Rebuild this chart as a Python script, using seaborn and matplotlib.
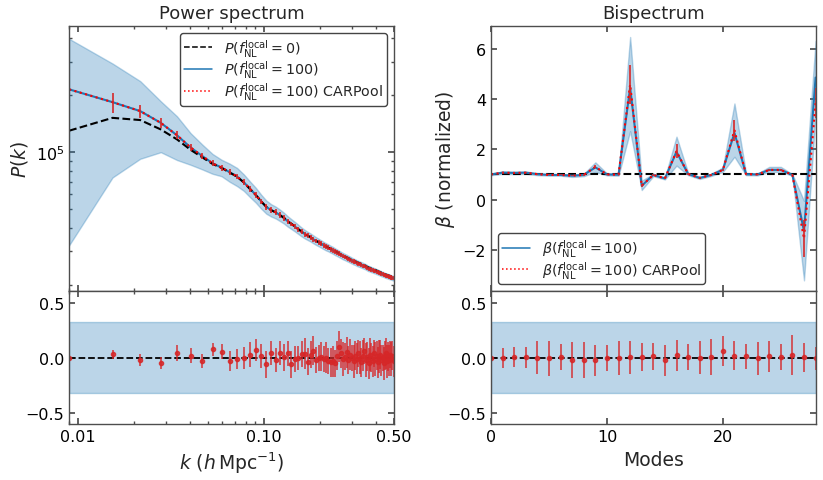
import matplotlib
matplotlib.use("Agg")
import numpy as np
import pandas as pd
import matplotlib.pyplot as plt
import seaborn as sns
from matplotlib.ticker import FormatStrFormatter, NullFormatter

# ---- power spectrum: k bins (h/Mpc) ----
k = [0.0090, 0.0154, 0.0217, 0.0280, 0.0342, 0.0405, 0.0468, 0.0531, 0.0594, 0.0656,
     0.0719, 0.0782, 0.0845, 0.0908, 0.0970, 0.1033, 0.1096, 0.1159, 0.1222, 0.1284,
     0.1347, 0.1410, 0.1473, 0.1536, 0.1598, 0.1661, 0.1724, 0.1787, 0.1850, 0.1912,
     0.1975, 0.2038, 0.2101, 0.2164, 0.2226, 0.2289, 0.2352, 0.2415, 0.2478, 0.2540,
     0.2603, 0.2666, 0.2729, 0.2792, 0.2854, 0.2917, 0.2980, 0.3043, 0.3106, 0.3168,
     0.3231, 0.3294, 0.3357, 0.3420, 0.3482, 0.3545, 0.3608, 0.3671, 0.3734, 0.3796,
     0.3859, 0.3922, 0.3985, 0.4048, 0.4110, 0.4173, 0.4236, 0.4299, 0.4362, 0.4424,
     0.4487, 0.4550, 0.4613, 0.4676, 0.4738, 0.4801, 0.4864, 0.4927, 0.4990]

# P(k) for fNL=100, in units of 1e4
pk_fnl100 = [21.5, 18.4, 16.5, 14.3, 12.3, 10.6, 9.55, 8.75, 8.30, 7.85,
             7.45, 6.95, 6.40, 5.95, 5.50, 5.15, 4.95, 4.82, 4.66, 4.50,
             4.32, 4.18, 4.05, 3.92, 3.80, 3.70, 3.62, 3.55, 3.47, 3.40,
             3.34, 3.28, 3.22, 3.17, 3.13, 3.08, 3.04, 2.99, 2.95, 2.91,
             2.87, 2.83, 2.80, 2.77, 2.74, 2.71, 2.68, 2.65, 2.63, 2.60,
             2.58, 2.56, 2.54, 2.52, 2.50, 2.48, 2.45, 2.43, 2.42, 2.40,
             2.39, 2.37, 2.36, 2.34, 2.33, 2.31, 2.30, 2.28, 2.27, 2.26,
             2.24, 2.23, 2.22, 2.21, 2.20, 2.19, 2.18, 2.17, 2.16]

# P(k) for fNL=0, in units of 1e4
pk_fnl0 = [13.0, 15.2, 14.8, 13.2, 11.7, 10.3, 9.40, 8.68, 8.27, 7.82,
           7.43, 6.93, 6.39, 5.94, 5.50, 5.15, 4.95, 4.82, 4.66, 4.51,
           4.33, 4.19, 4.06, 3.93, 3.81, 3.71, 3.63, 3.56, 3.48, 3.41,
           3.35, 3.29, 3.23, 3.18, 3.14, 3.09, 3.05, 3.01, 2.97, 2.93,
           2.89, 2.85, 2.82, 2.79, 2.76, 2.73, 2.70, 2.68, 2.66, 2.63,
           2.61, 2.59, 2.57, 2.55, 2.53, 2.51, 2.48, 2.46, 2.45, 2.43,
           2.42, 2.40, 2.39, 2.37, 2.36, 2.34, 2.33, 2.31, 2.30, 2.29,
           2.27, 2.26, 2.25, 2.24, 2.23, 2.22, 2.21, 2.20, 2.19]

# relative scatter of the simulations (percent)
pk_std_pct = [85, 60, 44, 30, 26, 19, 15, 12, 10, 11,
              11, 10, 9.5, 9, 8.5, 8, 7.5, 7.2, 7, 6.6,
              6.3, 6, 5.8, 5.6, 5.4, 5.2, 5, 4.9, 4.8, 4.7,
              4.6, 4.5, 4.4, 4.4, 4.3, 4.2, 4.2, 4.1, 4.0, 4.0,
              3.9, 3.9, 3.8, 3.8, 3.7, 3.7, 3.6, 3.6, 3.5, 3.5,
              3.5, 3.4, 3.4, 3.4, 3.3, 3.3, 3.3, 3.2, 3.2, 3.2,
              3.2, 3.1, 3.1, 3.1, 3.1, 3.0, 3.0, 3.0, 3.0, 3.0,
              2.9, 2.9, 2.9, 2.9, 2.9, 2.8, 2.8, 2.8, 2.8]

# CARPool error bars (percent)
pk_car_err_pct = [30, 12, 7.5, 6, 5, 4.5, 4, 3.5, 3.5, 3.5,
                  3.5, 3.5, 3.5, 3.5, 3.5, 3.5, 3.5, 3.5, 3.5, 3.5,
                  3, 3, 3, 3, 3, 3, 3, 3, 3, 3,
                  3, 3, 3, 3, 3, 3, 3, 3, 3, 3,
                  2.5, 2.5, 2.5, 2.5, 2.5, 2.5, 2.5, 2.5, 2.5, 2.5,
                  2.5, 2.5, 2.5, 2.5, 2.5, 2.5, 2.5, 2.5, 2.5, 2.5,
                  2.5, 2.5, 2.5, 2.5, 2.5, 2.5, 2.5, 2.5, 2.5, 2.5,
                  2.5, 2.5, 2.5, 2.5, 2.5, 2.5, 2.5, 2.5, 2.5]

# residuals (lower left panel)
pk_resid = [0.00, 0.033, -0.018, -0.048, 0.045, 0.02, -0.03, 0.076, 0.055, -0.027,
            -0.01, 0.00, 0.03, 0.073, 0.015, -0.058, 0.045, -0.02, 0.045, 0.005,
            0.04, -0.058, -0.01, 0.00, 0.035, 0.035, -0.035, 0.03, 0.065, -0.02,
            0.00, 0.01, -0.01, 0.00, -0.03, -0.04, -0.03, -0.05, 0.02, 0.10,
            0.04, -0.01, 0.01, 0.05, -0.02, 0.03, 0.00, -0.03, 0.02, -0.01,
            0.04, 0.00, -0.04, 0.02, 0.06, -0.02, 0.01, -0.05, 0.03, 0.00,
            -0.03, 0.04, -0.01, 0.02, -0.04, 0.01, 0.03, -0.02, 0.00, -0.05,
            0.02, 0.04, -0.03, 0.01, -0.02, 0.03, -0.01, 0.02, -0.03]
pk_resid_err = [0.06, 0.04, 0.055, 0.055, 0.07, 0.07, 0.065, 0.06, 0.07, 0.09,
                0.09, 0.10, 0.11, 0.10, 0.11, 0.12, 0.11, 0.11, 0.11, 0.12,
                0.11, 0.12, 0.12, 0.11, 0.12, 0.14, 0.12, 0.12, 0.13, 0.12,
                0.12, 0.13, 0.12, 0.14, 0.12, 0.13, 0.14, 0.12, 0.13, 0.14,
                0.13, 0.15, 0.12, 0.14, 0.13, 0.14, 0.12, 0.15, 0.13, 0.14,
                0.12, 0.15, 0.13, 0.14, 0.12, 0.15, 0.13, 0.14, 0.15, 0.13,
                0.14, 0.12, 0.15, 0.13, 0.14, 0.15, 0.13, 0.14, 0.12, 0.15,
                0.13, 0.14, 0.15, 0.13, 0.14, 0.12, 0.15, 0.13, 0.14]
resid_band = 0.32

# ---- bispectrum ----
modes = [0, 1, 2, 3, 4, 5, 6, 7, 8, 9, 10, 11, 12, 13, 14,
         15, 16, 17, 18, 19, 20, 21, 22, 23, 24, 25, 26, 27, 28]
beta_fnl100 = [1.00, 1.07, 1.06, 1.07, 1.01, 0.98, 0.98, 0.95, 0.98, 1.28,
               1.00, 0.99, 4.45, 0.55, 0.98, 0.84, 1.90, 1.02, 0.86, 0.98,
               1.18, 2.65, 1.01, 1.00, 1.18, 1.18, 0.98, -1.25, 4.85]
beta_car = [1.00, 1.07, 1.06, 1.07, 1.01, 0.98, 0.98, 0.95, 0.98, 1.30,
            1.00, 0.99, 4.57, 0.55, 0.98, 0.84, 1.92, 1.02, 0.86, 0.98,
            1.18, 2.75, 1.01, 1.00, 1.18, 1.18, 0.98, -1.55, 3.85]
beta_car_err = [0.02, 0.02, 0.02, 0.02, 0.02, 0.02, 0.02, 0.03, 0.03, 0.06,
                0.02, 0.02, 0.78, 0.05, 0.03, 0.03, 0.27, 0.03, 0.03, 0.03,
                0.04, 0.43, 0.02, 0.02, 0.04, 0.04, 0.02, 0.74, 0.60]
beta_lo = [0.97, 1.02, 1.01, 1.02, 0.97, 0.95, 0.95, 0.90, 0.93, 1.10,
           0.96, 0.95, 2.72, 0.38, 0.93, 0.80, 1.35, 0.97, 0.82, 0.94,
           1.10, 1.70, 0.97, 0.96, 1.10, 1.10, 0.95, -3.21, 3.40]
beta_hi = [1.03, 1.12, 1.11, 1.12, 1.05, 1.01, 1.01, 1.00, 1.03, 1.48,
           1.04, 1.03, 6.46, 0.75, 1.03, 0.88, 2.50, 1.07, 0.90, 1.02,
           1.28, 3.82, 1.05, 1.04, 1.30, 1.30, 1.01, -0.05, 6.30]
beta_resid = [0.00, 0.00, 0.006, 0.003, 0.00, -0.006, 0.006, -0.02, -0.02, -0.02,
              -0.003, -0.003, 0.003, 0.006, 0.012, -0.02, 0.024, 0.006, 0.00, 0.006,
              0.058, 0.02, 0.012, -0.006, 0.015, 0.006, 0.024, 0.006, -0.006]
beta_resid_err = [0.05, 0.09, 0.09, 0.095, 0.15, 0.16, 0.12, 0.16, 0.16, 0.14,
                  0.12, 0.155, 0.15, 0.125, 0.12, 0.14, 0.14, 0.12, 0.15, 0.16,
                  0.135, 0.13, 0.11, 0.15, 0.14, 0.12, 0.18, 0.13, 0.10]

sns.set_theme(style="ticks")
plt.rcParams.update({
    "font.family": ["DejaVu Sans"],
    "mathtext.fontset": "dejavusans",
    "xtick.direction": "in", "ytick.direction": "in",
    "xtick.top": True, "ytick.right": True,
    "xtick.major.size": 4.5, "ytick.major.size": 4.5,
    "xtick.minor.size": 2.5, "ytick.minor.size": 2.5,
    "xtick.color": "#4d4d4d", "ytick.color": "#4d4d4d",
    "xtick.labelcolor": "black", "ytick.labelcolor": "black",
    "xtick.labelsize": 11.5, "ytick.labelsize": 11.5,
    "axes.edgecolor": "#4d4d4d", "axes.linewidth": 1.0,
    "axes.labelsize": 13.5, "axes.titlesize": 13,
    "legend.fontsize": 10.3,
})

k_arr = np.array(k)
pk100 = np.array(pk_fnl100) * 1e4
pk0 = np.array(pk_fnl0) * 1e4
pk_std = pk100 * np.array(pk_std_pct) / 100
pk_err = pk100 * np.array(pk_car_err_pct) / 100
df_pk = pd.DataFrame({"k": k_arr, "P100": pk100, "P0": pk0})
df_bk = pd.DataFrame({"mode": modes, "b100": beta_fnl100, "bcar": beta_car})

fig = plt.figure(figsize=(8.23, 4.81), dpi=100)
gs = fig.add_gridspec(2, 2, height_ratios=[2, 1], hspace=0, wspace=0.30,
                      left=0.084, right=0.991, top=0.944, bottom=0.116)
ax_pk = fig.add_subplot(gs[0, 0])
ax_pr = fig.add_subplot(gs[1, 0], sharex=ax_pk)
ax_bk = fig.add_subplot(gs[0, 1])
ax_br = fig.add_subplot(gs[1, 1], sharex=ax_bk)

blue = "#1f77b4"
red_err = "#d62728"
leg_kw = dict(framealpha=1, edgecolor="#444444", fancybox=True,
              labelspacing=0.0, borderpad=0.25, handlelength=2.0, handletextpad=0.8)

# power spectrum
ax_pk.set_xscale("log")
ax_pk.set_yscale("log")
ax_pk.fill_between(k_arr, pk100 - pk_std, pk100 + pk_std, color=blue, alpha=0.3, lw=1)
sns.lineplot(data=df_pk, x="k", y="P100", ax=ax_pk, color=blue, lw=1.5,
             estimator=None, sort=False, label=r"$P(f_{\rm NL}^{\rm local}=100)$")
sns.lineplot(data=df_pk, x="k", y="P0", ax=ax_pk, color="black", lw=1.5, linestyle="--",
             estimator=None, sort=False, label=r"$P(f_{\rm NL}^{\rm local}=0)$")
sns.lineplot(data=df_pk, x="k", y="P100", ax=ax_pk, color="red", lw=1.5, linestyle=":",
             estimator=None, sort=False, label=r"$P(f_{\rm NL}^{\rm local}=100)$ CARPool")
ax_pk.errorbar(k_arr, pk100, yerr=pk_err, fmt="none", ecolor=red_err, elinewidth=1.2)
h, l = ax_pk.get_legend_handles_labels()
leg = ax_pk.legend([h[1], h[0], h[2]], [l[1], l[0], l[2]], loc="upper right", **leg_kw)
for line in leg.get_lines():
    line.set_linewidth(1.1)
ax_pk.set_xlim(k_arr.min(), 0.5)
ax_pk.set_ylim(1.84e4, 4.65e5)
ax_pk.set_ylabel(r"$P(k)$")
ax_pk.set_xlabel("")
ax_pk.set_title("Power spectrum")
ax_pk.yaxis.set_minor_formatter(NullFormatter())
ax_pk.tick_params(which="both", labelbottom=False)

ax_pr.fill_between(k_arr, -resid_band, resid_band, color=blue, alpha=0.3, lw=1)
ax_pr.axhline(0, color="black", ls="--", lw=1.3)
ax_pr.errorbar(k_arr, pk_resid, yerr=pk_resid_err, fmt="o", ms=3, color=red_err,
               ecolor=red_err, elinewidth=1.2, alpha=0.85)
ax_pr.set_ylim(-0.6, 0.6)
ax_pr.set_yticks([-0.5, 0.0, 0.5])
ax_pr.set_xticks([0.01, 0.1, 0.5])
ax_pr.xaxis.set_major_formatter(FormatStrFormatter("%.2f"))
ax_pr.xaxis.set_minor_formatter(NullFormatter())
ax_pr.set_xlim(k_arr.min(), 0.5)
ax_pr.set_xlabel(r"$k\ (h\,{\rm Mpc}^{-1})$")

# bispectrum
ax_bk.fill_between(modes, beta_lo, beta_hi, color=blue, alpha=0.3, lw=1)
ax_bk.axhline(1, color="black", ls="--", lw=1.5, zorder=1.5)
sns.lineplot(data=df_bk, x="mode", y="b100", ax=ax_bk, color=blue, lw=1.5,
             estimator=None, sort=False, label=r"$\beta(f_{\rm NL}^{\rm local}=100)$")
sns.lineplot(data=df_bk, x="mode", y="bcar", ax=ax_bk, color="red", lw=1.5, linestyle=":",
             estimator=None, sort=False, label=r"$\beta(f_{\rm NL}^{\rm local}=100)$ CARPool")
ax_bk.errorbar(modes, beta_car, yerr=beta_car_err, fmt="none", ecolor=red_err, elinewidth=1.2)
leg = ax_bk.legend(loc="lower left", **leg_kw)
for line in leg.get_lines():
    line.set_linewidth(1.1)
ax_bk.set_ylim(-3.65, 6.9)
ax_bk.set_yticks([-2, 0, 2, 4, 6])
ax_bk.set_ylabel(r"$\beta$ (normalized)")
ax_bk.set_xlabel("")
ax_bk.set_title("Bispectrum")
ax_bk.tick_params(labelbottom=False)

ax_br.fill_between(modes, -resid_band, resid_band, color=blue, alpha=0.3, lw=1)
ax_br.axhline(0, color="black", ls="--", lw=1.3)
ax_br.errorbar(modes, beta_resid, yerr=beta_resid_err, fmt="o", ms=3, color=red_err,
               ecolor=red_err, elinewidth=1.2, alpha=0.85)
ax_br.set_ylim(-0.6, 0.6)
ax_br.set_yticks([-0.5, 0.0, 0.5])
ax_br.set_xlim(0, 28)
ax_br.set_xticks([0, 10, 20])
ax_br.set_xlabel("Modes")

fig.savefig("out.png", dpi=100)
